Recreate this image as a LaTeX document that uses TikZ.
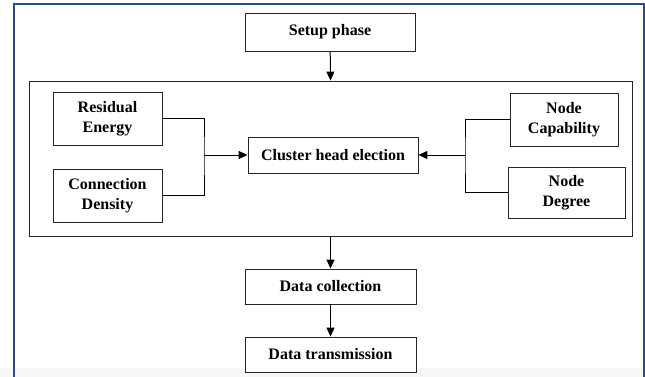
\documentclass[tikz,border=0pt]{standalone}
\usepackage{fontspec}
\setmainfont{Liberation Serif}
\usetikzlibrary{arrows.meta}
\definecolor{framebl}{HTML}{2F4A86}
\tikzset{
  blk/.style={draw=black!85,line width=0.9pt,fill=white,align=center,font=\bfseries\fontsize{16}{20.5}\selectfont,inner sep=2pt},
  arr/.style={line width=1pt,-{Triangle[length=9pt,width=8pt]}},
  conn/.style={line width=0.9pt}
}
\begin{document}
\begin{tikzpicture}[x=1pt,y=-1pt]
  \useasboundingbox (0,0) rectangle (645,377);
  \fill[black!3] (0,368) rectangle (645,377);
  \draw[framebl,line width=2pt] (14,377) -- (14,4) -- (643.5,4) -- (643.5,377);
  % group box
  \node[blk,minimum width=603,minimum height=155] (grp) at (330.5,158.5) {};
  \node[blk,minimum width=170,minimum height=38] (setup) at (330,32) {Setup phase};
  \node[blk,minimum width=109,minimum height=53] (resid) at (107.5,118.5) {Residual\\Energy};
  \node[blk,minimum width=109,minimum height=53] (dens) at (107.5,195.5) {Connection\\Density};
  \node[blk,minimum width=170,minimum height=36] (chead) at (333,155) {Cluster head election};
  \node[blk,minimum width=108,minimum height=53] (cap) at (564,119.5) {Node\\Capability};
  \node[blk,minimum width=117,minimum height=51] (deg) at (566.5,192.5) {Node\\Degree};
  \node[blk,minimum width=171,minimum height=35] (collect) at (330.5,286.5) {Data collection};
  \node[blk,minimum width=171,minimum height=35] (trans) at (330.5,354.5) {Data transmission};
  \coordinate (jl) at (204,155);
  \coordinate (jr) at (465,155);
  \draw[arr] (setup) -- (grp.north);
  \draw[conn] (resid.east) -| (jl) |- (dens.east);
  \draw[arr] (jl) -- (chead.west);
  \draw[conn] (cap.west) -| (jr) |- (deg.west);
  \draw[arr] (jr) -- (chead.east);
  \draw[arr] (grp.south) -- (collect);
  \draw[arr] (collect) -- (trans);
\end{tikzpicture}
\end{document}
